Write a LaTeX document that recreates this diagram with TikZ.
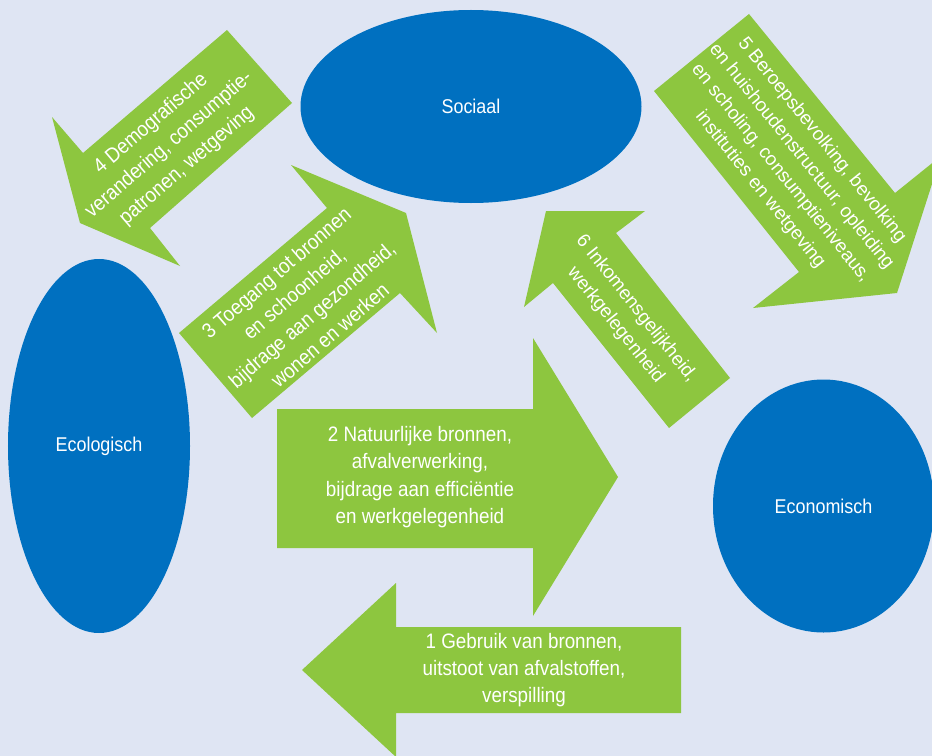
\documentclass[tikz,border=0pt]{standalone}
\usepackage{fontspec}
\setmainfont{Liberation Sans}
\newfontfamily\narrowfont[FakeStretch=0.9]{Liberation Sans}
\usetikzlibrary{shapes.geometric}

\definecolor{bgblue}{RGB}{223,229,243}
\definecolor{pillarblue}{RGB}{0,112,192}
\definecolor{arrowgreen}{RGB}{141,198,63}

\tikzset{
  pillar/.style={ellipse,fill=pillarblue,text=white,inner sep=0pt,
    font=\narrowfont\fontsize{20}{24}\selectfont},
  blockarrow/.style={fill=arrowgreen},
  widetext/.style={text=white,align=center,
    font=\narrowfont\fontsize{21}{27.5}\selectfont},
  slimtext/.style={text=white,align=center,
    font=\fontsize{19}{26.5}\selectfont},
}

\begin{document}
\begin{tikzpicture}[x=1bp,y=-1bp]
    \useasboundingbox (0,0) rectangle (932,756);
    \fill[bgblue] (0,0) rectangle (932,756);
    \clip (0,0) rectangle (932,756);

    % de drie pijlers
    \node[pillar,minimum width=341bp,minimum height=193bp] (sociaal) at (471,106.5) {Sociaal};
    \node[pillar,minimum width=182bp,minimum height=374bp] (ecologisch) at (99,446) {Ecologisch};
    \node[pillar,minimum width=221bp,minimum height=253bp] (economisch) at (823.5,506) {Economisch};

    % pijlen
    \fill[blockarrow] (681,627) -- (396,627) -- (396,583) -- (302,670)
        -- (396,757) -- (396,713) -- (681,713) -- cycle;
    \fill[blockarrow] (277,409) -- (533,409) -- (533,338) -- (618,477)
        -- (533,616) -- (533,548) -- (277,548) -- cycle;
    \fill[blockarrow] (179,333) -- (327,208) -- (291,165) -- (406,213)
        -- (437,333) -- (400,293) -- (252,418) -- cycle;
    \fill[blockarrow] (227,30) -- (292,103) -- (150,228) -- (180,266)
        -- (80,223) -- (52,117) -- (83,153) -- cycle;
    \fill[blockarrow] (749,14) -- (895,193) -- (941,156) -- (897,293)
        -- (753,308) -- (799,272) -- (654,91) -- cycle;
    \fill[blockarrow] (730,378) -- (616,233) -- (645,211) -- (546,211)
        -- (524,307) -- (553,283) -- (669,428) -- cycle;

    % teksten
    \node[widetext] (gebruik) at (524,670) {1 Gebruik van bronnen,\\uitstoot van afvalstoffen,\\verspilling};
    \node[widetext] (natuur) at (420,477) {2 Natuurlijke bronnen,\\afvalverwerking,\\bijdrage aan efficiëntie\\en werkgelegenheid};
    \node[widetext,rotate=40.7] (toegang) at (303,304) {3 Toegang tot bronnen\\en schoonheid,\\bijdrage aan gezondheid,\\wonen en werken};
    \node[widetext,rotate=40.7] (demo) at (169,145) {4 Demografische\\verandering, consumptie-\\patronen, wetgeving};
    \node[slimtext,rotate=-51.2] (beroeps) at (791,165) {5 Beroepsbevolking, bevolking\\en huishoudenstructuur, opleiding\\en scholing, consumptieniveaus,\\instituties en wetgeving};
    \node[slimtext,rotate=-51.4] (inkomen) at (626,317) {6 Inkomensgelijkheid,\\werkgelegenheid};
\end{tikzpicture}
\end{document}
